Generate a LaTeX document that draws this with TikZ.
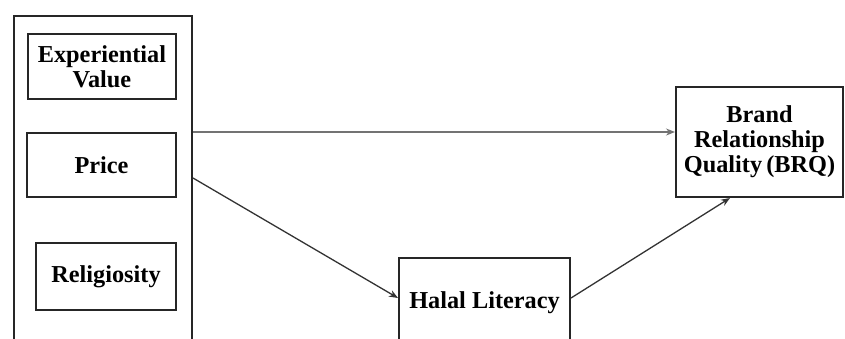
\documentclass[tikz,border=0pt]{standalone}
\usepackage{fontspec}
\setmainfont{Liberation Serif}
\usetikzlibrary{arrows.meta}
\begin{document}
\begin{tikzpicture}[x=1pt,y=-1pt,
 box/.style={draw=black!85, line width=2pt, fill=white, align=center, font=\bfseries\fontsize{24.3}{25}\selectfont, inner sep=0pt},
 arr/.style={draw=black!80, line width=1.3pt, -{Stealth[length=9pt,width=7pt]}},
 garr/.style={arr, draw=black!55},
]
\useasboundingbox (0,0) rectangle (845,338);
\clip (0,0) rectangle (845,338);
\node[box, minimum width=178, minimum height=340, anchor=north west] (outer) at (13,15) {};
\node[box, minimum width=148, minimum height=65] (exp) at (102,66.5) {Experiential\\Value};
\node[box, minimum width=149, minimum height=64] (price) at (101.5,165) {Price};
\node[box, minimum width=140, minimum height=67] (rel) at (106,276.5) {Religiosity};
\node[box, minimum width=171, minimum height=90, anchor=north west] (halal) at (398,257) {Halal Literacy};
\node[box, minimum width=167, minimum height=110] (brq) at (759.5,142) {Brand\\Relationship\\Quality\,(BRQ)};
\draw[garr] (outer.east |- 0,132) -- (brq.west |- 0,132);
\draw[arr] (outer.east |- 0,178) -- (halal.west |- 0,298);
\draw[arr] (halal.east |- 0,298) -- (brq.south -| 730,0);
\end{tikzpicture}
\end{document}
